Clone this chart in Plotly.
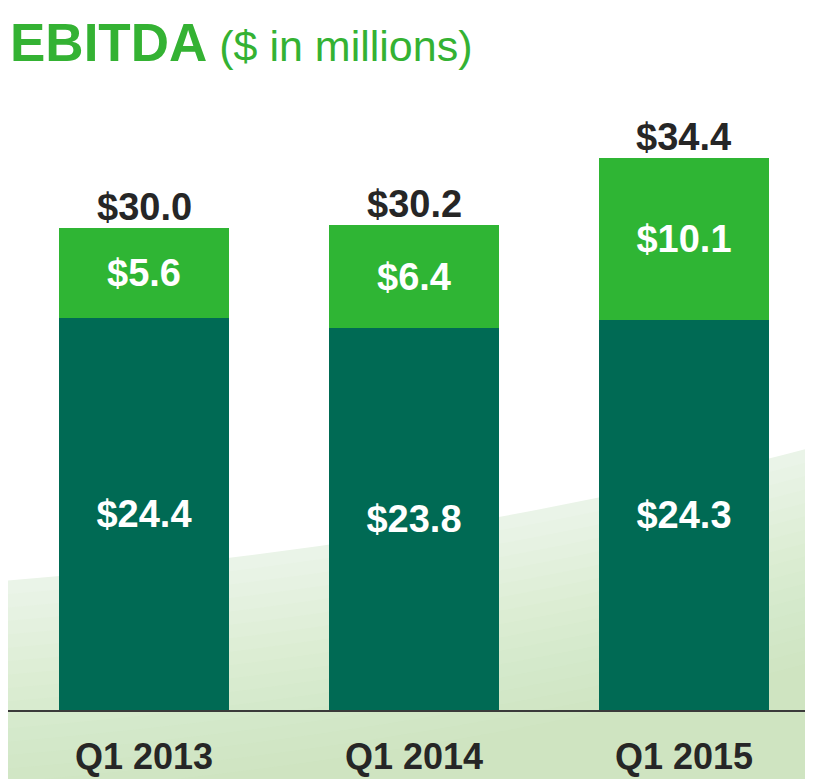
import plotly.graph_objects as go

# valores em milhoes de dolares
trimestres = ["Q1 2013", "Q1 2014", "Q1 2015"]
base = [24.4, 23.8, 24.3]
extra = [5.6, 6.4, 10.1]
totais = [30.0, 30.2, 34.4]

_CORES = {
    "verde": "#34b233",
    "verde_barra": "#2fb534",
    "escuro": "#006a54",
    "texto": "#262626",
    "eixo": "#3a3a3a",
}

_FONTE = "Liberation Sans"

fig = go.Figure()

for valores, cor in [(base, _CORES["escuro"]), (extra, _CORES["verde_barra"])]:
    fig.add_trace(
        go.Bar(
            x=trimestres,
            y=valores,
            marker={"color": cor, "line": {"width": 0}},
            texttemplate="$%{y:.1f}",
            textposition="inside",
            insidetextanchor="middle",
            textfont={"color": "white", "size": 38, "family": _FONTE, "weight": "bold"},
            hoverinfo="skip",
        )
    )

for t, v in zip(trimestres, totais):
    fig.add_annotation(
        x=t, y=v, text=f"<b>${v:.1f}</b>", showarrow=False,
        yanchor="bottom", yshift=-2,
        font={"size": 38, "color": _CORES["texto"], "family": _FONTE},
    )

fig.add_annotation(
    xref="paper", yref="paper", x=0.0, y=1.0, yshift=58,
    xanchor="left", yanchor="middle", showarrow=False,
    text="<b>EBITDA</b><span style='font-size:43px'> ($ in millions)</span>",
    font={"size": 53, "color": _CORES["verde"], "family": _FONTE},
)

# fundo: cunha verde clara com degrade feito por camadas
def cunha(d):
    return (f"M -0.02,{0.21 - d:.3f} Q 0.55,{0.27 - d:.3f} 1.02,{0.438 - d:.3f} "
            "L 1.02,-0.2 L -0.02,-0.2 Z")

fig.add_shape(type="path", xref="paper", yref="paper", path=cunha(0),
              fillcolor="#eaf4e8", line={"width": 0}, layer="below")
for k in range(1, 17):
    fig.add_shape(type="path", xref="paper", yref="paper", path=cunha(0.022 * k),
                  fillcolor="rgba(150,200,145,0.022)", line={"width": 0}, layer="below")

fig.update_layout(
    width=805,
    height=771,
    barmode="stack",
    bargap=0.37,
    showlegend=False,
    plot_bgcolor="rgba(0,0,0,0)",
    paper_bgcolor="white",
    margin={"t": 92, "b": 69, "l": 0, "r": 0, "autoexpand": False},
    xaxis={
        "range": [-0.5037, 2.4778],
        "showline": True,
        "linecolor": _CORES["eixo"],
        "linewidth": 2,
        "ticks": "",
        "ticklabelstandoff": 14,
        "tickfont": {"size": 36, "color": _CORES["texto"], "family": _FONTE, "weight": "bold"},
        "showgrid": False,
        "fixedrange": True,
    },
    yaxis={
        "range": [0, 38],
        "visible": False,
        "showgrid": False,
        "fixedrange": True,
    },
)

fig.write_html("out.html", config={"displayModeBar": False})
